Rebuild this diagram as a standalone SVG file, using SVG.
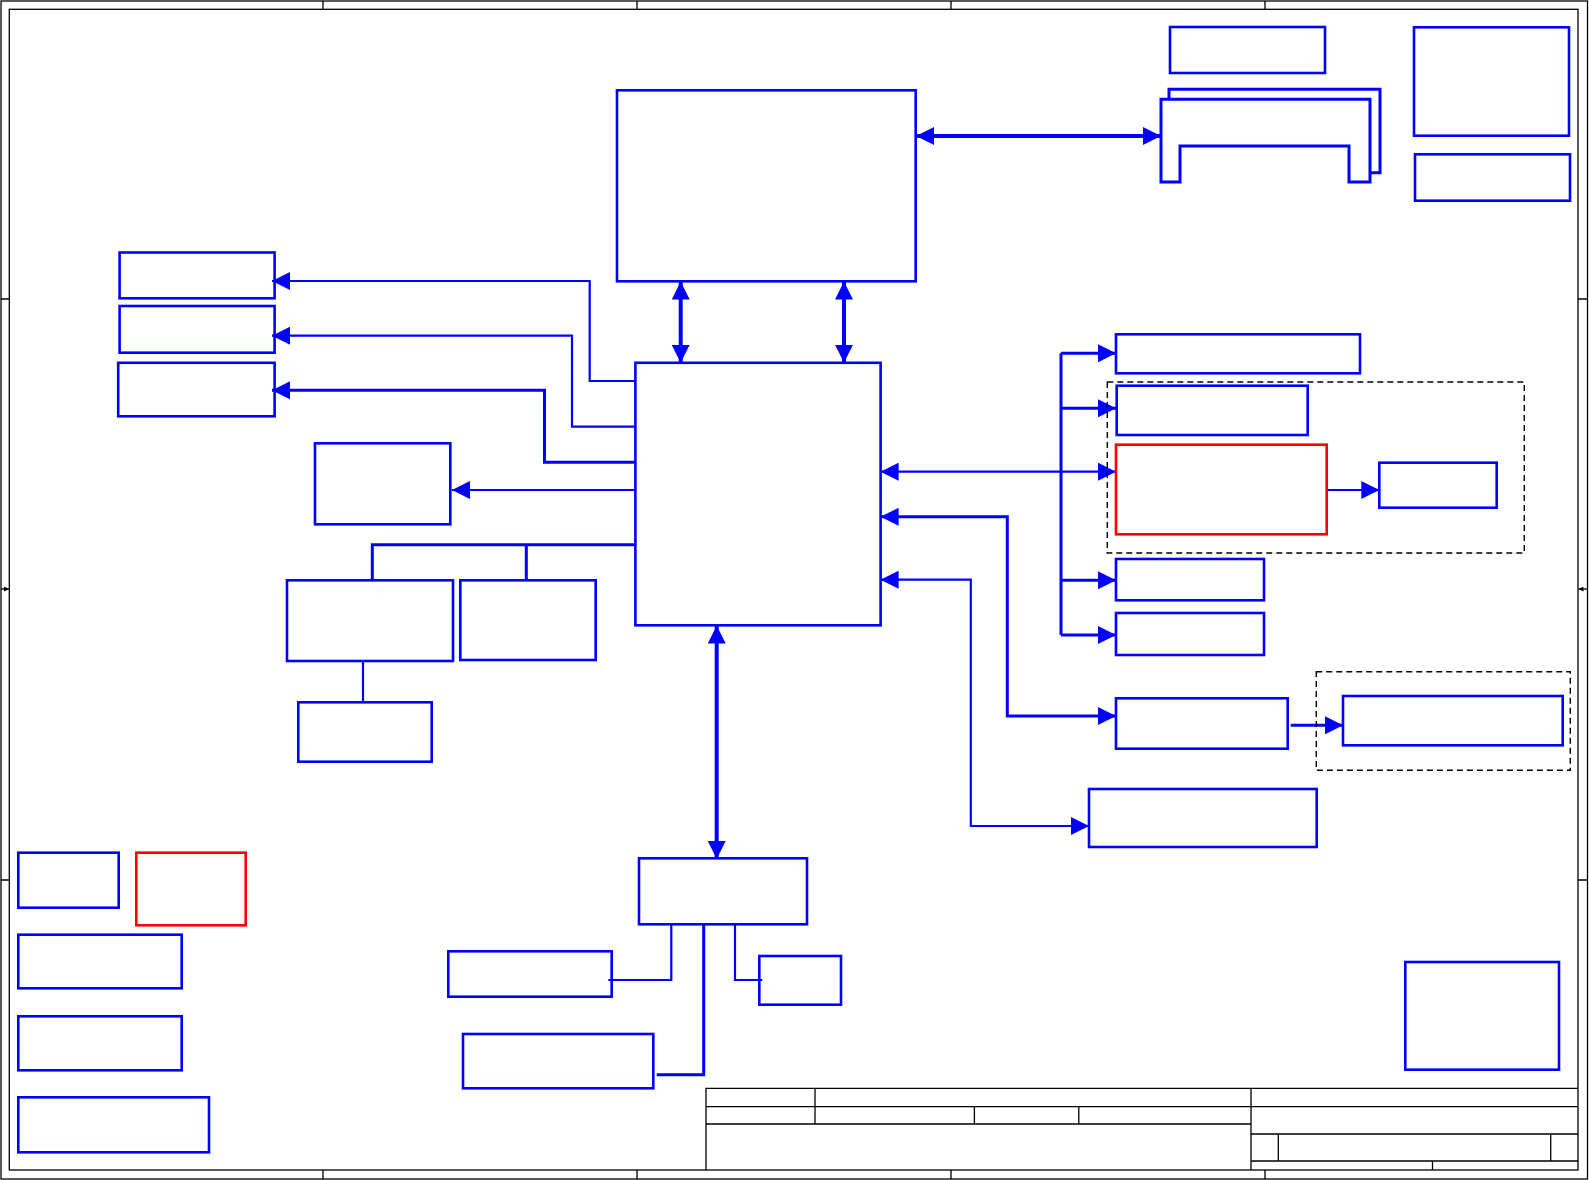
<svg xmlns="http://www.w3.org/2000/svg" width="1589" height="1180" viewBox="0 0 1589 1180">
<style>
.frame{fill:none;stroke:#000;stroke-width:1.3}
.dash{fill:none;stroke:#000;stroke-width:1.4;stroke-dasharray:6,4}
.box{fill:none;stroke:#0000ff;stroke-width:2.6}
.red{fill:none;stroke:#ff0000;stroke-width:2.6}
.c{fill:none;stroke:#0000ff;stroke-linejoin:miter}
.w2{stroke-width:2.2}
.w3{stroke-width:3}
.w4{stroke-width:4}
.ae{marker-end:url(#ah)}
.ab{marker-start:url(#ah);marker-end:url(#ah)}
</style>
<defs>
<marker id="ah" markerUnits="userSpaceOnUse" markerWidth="18" markerHeight="18" refX="18" refY="9" orient="auto-start-reverse" viewBox="0 0 18 18">
<path d="M0,0 L18,9 L0,18 Z" fill="#0000ff"/>
</marker>
<marker id="sa" markerUnits="userSpaceOnUse" markerWidth="5" markerHeight="5" refX="5" refY="2.5" orient="auto" viewBox="0 0 5 5">
<path d="M0,0 L5,2.5 L0,5 Z" fill="#000"/>
</marker>
</defs>
<rect width="1589" height="1180" fill="#fff"/>
<g id="frame">
<rect class="frame" x="1" y="1" width="1586.5" height="1178"/>
<rect class="frame" x="9.3" y="9.3" width="1568.7" height="1160.7"/>
<path class="frame" d="M323,1V9.3M637,1V9.3M951,1V9.3M1265,1V9.3M323,1170V1179M637,1170V1179M951,1170V1179M1265,1170V1179M1,299H9.3M1,880H9.3M1578,299H1587.5M1578,880H1587.5"/>
<line class="frame" x1="1" y1="589" x2="9" y2="589" marker-end="url(#sa)"/>
<line class="frame" x1="1587.5" y1="589" x2="1578.5" y2="589" marker-end="url(#sa)"/>
</g>
<g id="titleblock">
<path class="frame" d="M706,1170V1088.3H1578M706,1106.7H1578M706,1124H1251M815,1088.3V1124M974.4,1106.7V1124M1078.8,1106.7V1124M1251,1088.3V1170M1251,1134H1578M1251,1161H1578M1278.3,1134V1161M1550.7,1134V1161M1432.5,1161V1170"/>
</g>
<g id="connectors">
<line class="c w4 ab" x1="916" y1="136" x2="1161" y2="136"/>
<line class="c w4 ab" x1="680.7" y1="281.5" x2="680.7" y2="362.8"/>
<line class="c w4 ab" x1="844" y1="281.5" x2="844" y2="362.8"/>
<line class="c w4 ab" x1="716.7" y1="625.5" x2="716.7" y2="859"/>
<polyline class="c w2 ae" points="635.4,381 589.7,381 589.7,281 272,281"/>
<polyline class="c w2 ae" points="635.4,426.7 572,426.7 572,335.7 272,335.7"/>
<polyline class="c w3 ae" points="635.4,462.3 544.5,462.3 544.5,390.3 272,390.3"/>
<line class="c w2 ae" x1="635.4" y1="490" x2="452" y2="490"/>
<polyline class="c w3" points="635.4,544.7 372.3,544.7 372.3,580.3"/>
<line class="c w3" x1="526.3" y1="544.7" x2="526.3" y2="580.3"/>
<line class="c w2" x1="363" y1="661" x2="363" y2="702.3"/>
<line class="c w3" x1="1061" y1="353.3" x2="1061" y2="635"/>
<line class="c w3 ae" x1="1061" y1="353.3" x2="1116" y2="353.3"/>
<line class="c w3 ae" x1="1061" y1="408.3" x2="1116" y2="408.3"/>
<line class="c w3 ae" x1="1061" y1="580.3" x2="1116" y2="580.3"/>
<line class="c w3 ae" x1="1061" y1="635" x2="1116" y2="635"/>
<line class="c w2 ab" x1="880.6" y1="471.7" x2="1116" y2="471.7"/>
<line class="c w2 ae" x1="1326.7" y1="490" x2="1379.3" y2="490"/>
<polyline class="c w3 ab" points="880.6,516.8 1007.3,516.8 1007.3,716 1116,716"/>
<polyline class="c w2 ab" points="880.6,579.7 970.8,579.7 970.8,826 1089,826"/>
<line class="c w3 ae" x1="1290.7" y1="725.3" x2="1343" y2="725.3"/>
<polyline class="c w2" points="671.3,924.3 671.3,980 608.3,980"/>
<polyline class="c w3" points="703.7,924.3 703.7,1074.7 656.7,1074.7"/>
<polyline class="c w2" points="735,924.3 735,980 762.3,980"/>
</g>
<g id="group1"><rect class="dash" x="1107.3" y="382" width="417" height="171"/></g>
<g id="group2"><rect class="dash" x="1316.3" y="671.7" width="254" height="98.6"/></g>
<g id="cpu"><rect class="box" x="617" y="90.3" width="298.7" height="191"/></g>
<g id="t1"><rect class="box" x="1170" y="27" width="155" height="46"/></g>
<g id="t2"><rect class="box" x="1414" y="27.3" width="155" height="108.4"/></g>
<g id="t3"><rect class="box" x="1415" y="154.3" width="155" height="46.4"/></g>
<g id="memory">
<path class="c w3" d="M1169,99.3V89.3H1380V172.7H1370"/>
<path class="c w3" d="M1161,182V99.3H1370V182H1349V146H1180V182Z"/>
</g>
<g id="l1"><rect class="box" x="119.6" y="252.5" width="155" height="45.8"/></g>
<g id="l2"><rect class="box" x="119.6" y="306" width="155" height="46.7"/></g>
<g id="l3"><rect class="box" x="118.2" y="362.8" width="156.4" height="53.5"/></g>
<g id="l4"><rect class="box" x="315" y="443.3" width="135.3" height="81"/></g>
<g id="l5"><rect class="box" x="287" y="580.3" width="166" height="80.7"/></g>
<g id="l6"><rect class="box" x="460.3" y="580.3" width="135.4" height="79.7"/></g>
<g id="l7"><rect class="box" x="298.3" y="702.3" width="133.4" height="59.4"/></g>
<g id="pch"><rect class="box" x="635.4" y="362.8" width="245.2" height="262.5"/></g>
<g id="ec"><rect class="box" x="639" y="858.3" width="168" height="66"/></g>
<g id="b1"><rect class="box" x="448.3" y="951.3" width="163.4" height="45.4"/></g>
<g id="b2"><rect class="box" x="463" y="1034" width="190.3" height="54.3"/></g>
<g id="b3"><rect class="box" x="759.3" y="956" width="81.7" height="48.7"/></g>
<g id="r1"><rect class="box" x="1116" y="334.3" width="244" height="39"/></g>
<g id="r2"><rect class="box" x="1116.7" y="385.7" width="191" height="49.3"/></g>
<g id="r3"><rect class="red" x="1116" y="444.7" width="210.7" height="89.6"/></g>
<g id="r4"><rect class="box" x="1379.3" y="462.7" width="117.4" height="45"/></g>
<g id="r5"><rect class="box" x="1116" y="559" width="148" height="41.3"/></g>
<g id="r6"><rect class="box" x="1116" y="613" width="148" height="42"/></g>
<g id="r7"><rect class="box" x="1116" y="698.3" width="171.7" height="50.4"/></g>
<g id="r8"><rect class="box" x="1343" y="696" width="219.7" height="49.3"/></g>
<g id="r9"><rect class="box" x="1089" y="789" width="227.7" height="58"/></g>
<g id="r10"><rect class="box" x="1405.3" y="962" width="153.7" height="107.7"/></g>
<g id="bl1"><rect class="box" x="18.3" y="852.7" width="100.4" height="55"/></g>
<g id="bl2"><rect class="red" x="136.3" y="852.7" width="109.4" height="72.6"/></g>
<g id="bl3"><rect class="box" x="18.3" y="934.7" width="163.4" height="53.6"/></g>
<g id="bl4"><rect class="box" x="18.3" y="1016.3" width="163.4" height="54"/></g>
<g id="bl5"><rect class="box" x="18.3" y="1097.3" width="190.7" height="55"/></g>
</svg>
